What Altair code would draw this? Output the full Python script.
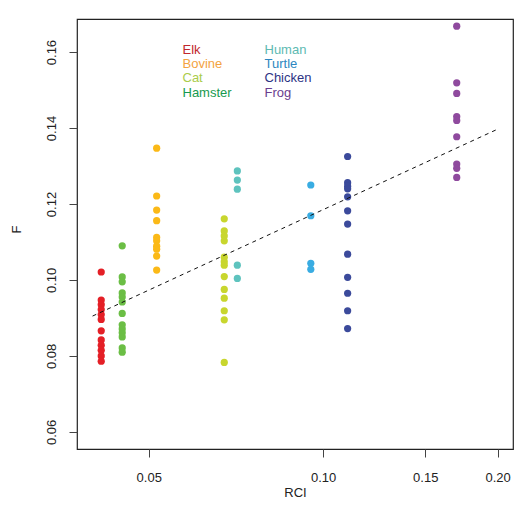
import altair as alt
import pandas as pd

species = ["Elk", "Bovine", "Cat", "Hamster", "Human", "Turtle", "Chicken", "Frog"]
rci = [0.0414, 0.0516, 0.0675, 0.0450, 0.0711, 0.0952, 0.1102, 0.170]
f_values = {
    "Elk": [0.1021, 0.0947, 0.0935, 0.0922, 0.0909, 0.0896, 0.0866, 0.0842, 0.0828, 0.0815, 0.0800, 0.0786],
    "Bovine": [0.1347, 0.1221, 0.1184, 0.1156, 0.1112, 0.1103, 0.1089, 0.1081, 0.1063, 0.1026],
    "Cat": [0.1161, 0.1129, 0.1116, 0.1103, 0.1060, 0.1048, 0.1039, 0.1009, 0.0975, 0.0952, 0.0919, 0.0895, 0.0783],
    "Hamster": [0.1090, 0.1008, 0.0995, 0.0966, 0.0955, 0.0942, 0.0912, 0.0882, 0.0871, 0.0861, 0.0850, 0.0821, 0.0810],
    "Human": [0.1287, 0.1263, 0.1239, 0.1039, 0.1004],
    "Turtle": [0.1250, 0.1169, 0.1044, 0.1028],
    "Chicken": [0.1325, 0.1256, 0.1247, 0.1240, 0.1219, 0.1182, 0.1147, 0.1068, 0.1007, 0.0965, 0.0919, 0.0872],
    "Frog": [0.1668, 0.1519, 0.1491, 0.1430, 0.1420, 0.1377, 0.1305, 0.1294, 0.1270],
}
dot_colors = ["#E41F26", "#FBB917", "#C8D62E", "#6BBE45", "#5EC3BE", "#39ACE2", "#3B4A9B", "#8F4A9E"]
text_colors = ["#C1272D", "#F3A33F", "#AACC4A", "#179A4E", "#5DBAB2", "#2C86C0", "#2D3384", "#6A3D8F"]

fit_x = [0.04, 0.20]
fit_y = [0.0905, 0.1397]

x_ticks = [0.05, 0.10, 0.15, 0.20]
y_ticks = [0.06, 0.08, 0.10, 0.12, 0.14, 0.16]

rows = []
for s, r in zip(species, rci):
    for v in f_values[s]:
        rows.append({"species": s, "RCI": r, "F": v})
df = pd.DataFrame(rows)
fit_df = pd.DataFrame({"RCI": fit_x, "F": fit_y})

FONT = "Liberation Sans"
FS = 13
xscale = alt.Scale(type="log", domain=[0.0376, 0.2126], nice=False, zero=False)
yscale = alt.Scale(domain=[0.0555, 0.1687], nice=False, zero=False)

xaxis = alt.Axis(values=x_ticks, format=".2f", title="RCI", grid=False, domain=False,
                 tickSize=8, tickColor="#444", labelPadding=24, labelBaseline="alphabetic",
                 labelFont=FONT, labelFontSize=FS, labelColor="#222",
                 titleFont=FONT, titleFontSize=FS, titleFontWeight="normal", titleColor="#222",
                 titleY=47, titleBaseline="alphabetic")
yaxis = alt.Axis(values=y_ticks, format=".2f", title="F", grid=False, domain=False,
                 tickSize=8, tickColor="#444", labelPadding=14, labelAngle=270,
                 labelAlign="center", labelBaseline="alphabetic",
                 labelFont=FONT, labelFontSize=FS, labelColor="#222",
                 titleFont=FONT, titleFontSize=FS, titleFontWeight="normal", titleColor="#222",
                 titleX=-57, titleY=210, titleAngle=270, titleAlign="center", titleBaseline="alphabetic")

points = alt.Chart(df).mark_circle(size=52, opacity=1).encode(
    x=alt.X("RCI:Q", scale=xscale, axis=xaxis),
    y=alt.Y("F:Q", scale=yscale, axis=yaxis),
    color=alt.Color("species:N", scale=alt.Scale(domain=species, range=dot_colors), legend=None),
)

fit = alt.Chart(fit_df).mark_line(color="#111", strokeWidth=1, strokeDash=[4, 4]).encode(
    x=alt.X("RCI:Q", scale=xscale),
    y=alt.Y("F:Q", scale=yscale),
)

col0 = ["Elk", "Bovine", "Cat", "Hamster"]
col1 = ["Human", "Turtle", "Chicken", "Frog"]
labels = []
for s, c in zip(species, text_colors):
    col = 0 if s in col0 else 1
    row = col0.index(s) if col == 0 else col1.index(s)
    labels.append(
        alt.Chart(pd.DataFrame({"t": [s]})).mark_text(
            align="left", baseline="middle", font=FONT, fontSize=FS, color=c
        ).encode(
            text="t:N",
            x=alt.value(105.5 + col * 82),
            y=alt.value(31 + row * 14.2),
        )
    )

chart = alt.layer(points, fit, *labels).properties(
    width=436, height=430,
    autosize=alt.AutoSizeParams(type="none"),
    padding={"left": 69, "top": 11, "right": 4, "bottom": 57},
).configure_view(stroke="#222", strokeWidth=1.2)

chart.save("out.html", embed_options={"renderer": "svg", "actions": False})
